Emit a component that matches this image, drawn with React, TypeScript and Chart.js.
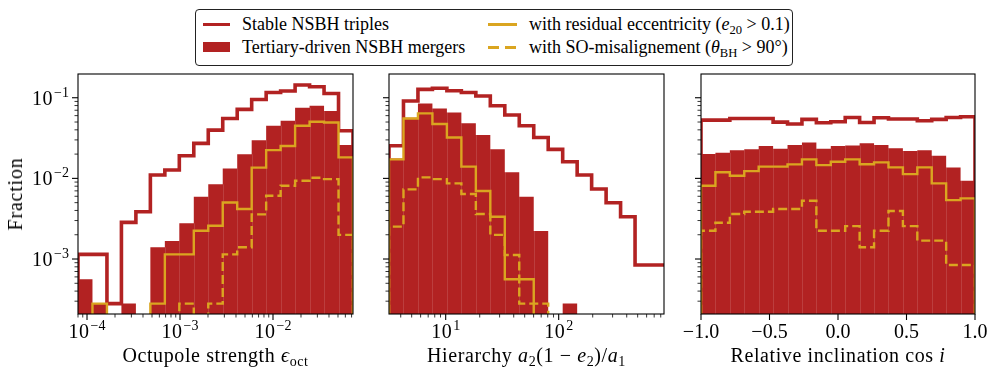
import React, { useEffect, useRef } from 'react';
import { Chart, registerables } from 'chart.js';
Chart.register(...registerables);

const FONT = "'Liberation Serif', 'Times New Roman', serif";
const RED = '#b22222';
const GOLD = '#daa520';
const N_BINS = 19;

// shared y axis
const Y_MIN = 2.08e-4;
const Y_MAX = 0.197;
const Y_TICK_EXPONENTS = [-3, -2, -1];

// Panel 1: octupole strength
const OCT_RANGE = [8.0e-5, 7.25e-2];
const OCT_TICK_EXPONENTS = [-4, -3, -2];
const OCT_STABLE = [1.14e-3, 1.14e-3, 2.8e-4, 2.85e-3, 3.86e-3, 1.1e-2, 1.27e-2, 1.91e-2, 2.72e-2, 3.97e-2, 5.54e-2, 7.17e-2, 9.53e-2, 0.116, 0.121, 0.144, 0.137, 0.113, 3.9e-2];
const OCT_MERGER = [5.6e-4, 2.8e-4, 0, 2.8e-4, 0, 1.4e-3, 1.67e-3, 2.77e-3, 5.93e-3, 8.43e-3, 1.33e-2, 1.99e-2, 2.98e-2, 4.5e-2, 5.19e-2, 7.52e-2, 7.96e-2, 6.83e-2, 2.59e-2];
const OCT_ECC = [0, 2.8e-4, 0, 0, 0, 2.8e-4, 1.14e-3, 1.14e-3, 2.24e-3, 2.59e-3, 5.03e-3, 4.17e-3, 1.36e-2, 2.24e-2, 2.52e-2, 4.5e-2, 5.03e-2, 4.94e-2, 1.82e-2];
const OCT_MIS = [0, 0, 0, 0, 0, 0, 0, 2.8e-4, 0, 2.8e-4, 1.14e-3, 1.4e-3, 3.58e-3, 6.1e-3, 8.1e-3, 9.35e-3, 1.02e-2, 9.8e-3, 1.99e-3];

// Panel 2: hierarchy
const HIER_RANGE = [3.15, 855];
const HIER_TICK_EXPONENTS = [1, 2];
const HIER_STABLE = [2.54e-2, 9.1e-2, 0.127, 0.131, 0.122, 0.116, 0.105, 7.96e-2, 6.1e-2, 4.5e-2, 3.22e-2, 2.29e-2, 1.61e-2, 1.1e-2, 7.37e-3, 4.99e-3, 3.35e-3, 8.43e-4, 8.43e-4];
const HIER_MERGER = [1.77e-2, 5.65e-2, 8.5e-2, 7.38e-2, 6.58e-2, 4.81e-2, 3.44e-2, 2.29e-2, 1.19e-2, 5.93e-3, 2.22e-3, 0, 2.8e-4, 0, 0, 0, 0, 0, 0];
const HIER_ECC = [1.72e-2, 5.54e-2, 6.4e-2, 4.72e-2, 3.22e-2, 1.4e-2, 6.97e-3, 3.35e-3, 5.6e-4, 5.6e-4, 0, 0, 0, 0, 0, 0, 0, 0, 0];
const HIER_MIS = [2.52e-3, 7.3e-3, 1.03e-2, 9.8e-3, 8.67e-3, 6.4e-3, 3.61e-3, 1.99e-3, 1.12e-3, 2.8e-4, 2.8e-4, 0, 0, 0, 0, 0, 0, 0, 0];

// Panel 3: relative inclination
const COS_RANGE = [-1, 1];
const COS_TICKS = [-1, -0.5, 0, 0.5, 1];
const COS_TICK_LABELS = ['\u22121.0', '\u22120.5', '0.0', '0.5', '1.0'];
const COS_STABLE = [5.28e-2, 5.28e-2, 5.54e-2, 5.54e-2, 5.54e-2, 4.99e-2, 4.72e-2, 5.39e-2, 4.9e-2, 5.03e-2, 5.7e-2, 4.94e-2, 5.65e-2, 5.44e-2, 5.44e-2, 5.19e-2, 5.39e-2, 5.7e-2, 5.81e-2];
const COS_MERGER = [2.0e-2, 2.08e-2, 2.24e-2, 2.29e-2, 2.52e-2, 2.33e-2, 2.59e-2, 2.79e-2, 2.33e-2, 2.52e-2, 2.56e-2, 2.72e-2, 2.59e-2, 2.36e-2, 2.18e-2, 2.24e-2, 1.91e-2, 1.36e-2, 9.35e-3];
const COS_ECC = [8.1e-3, 1.19e-2, 1.08e-2, 1.23e-2, 1.4e-2, 1.4e-2, 1.49e-2, 1.72e-2, 1.46e-2, 1.61e-2, 1.72e-2, 1.5e-2, 1.58e-2, 1.37e-2, 1.13e-2, 1.37e-2, 8.67e-3, 5.38e-3, 5.65e-3];
const COS_MIS = [2.24e-3, 2.82e-3, 3.61e-3, 3.86e-3, 3.86e-3, 4.17e-3, 4.17e-3, 5.28e-3, 2.24e-3, 2.24e-3, 2.56e-3, 1.4e-3, 2.24e-3, 3.94e-3, 2.56e-3, 1.69e-3, 1.69e-3, 8.43e-4, 8.43e-4];

const FLOOR = 1e-9;

function logEdges(r: number[]) {
  const l0 = Math.log10(r[0]);
  const l1 = Math.log10(r[1]);
  const out: number[] = [];
  for (let i = 0; i <= N_BINS; i++) out.push(Math.pow(10, l0 + (i * (l1 - l0)) / N_BINS));
  return out;
}
function linEdges(r: number[]) {
  const out: number[] = [];
  for (let i = 0; i <= N_BINS; i++) out.push(r[0] + (i * (r[1] - r[0])) / N_BINS);
  return out;
}
function stepPoints(edges: number[], vals: number[]) {
  const pts = [{ x: edges[0], y: FLOOR }];
  vals.forEach((v, i) => pts.push({ x: edges[i], y: v > 0 ? v : FLOOR }));
  const last = vals[vals.length - 1];
  pts.push({ x: edges[vals.length], y: last > 0 ? last : FLOOR });
  pts.push({ x: edges[vals.length], y: FLOOR });
  return pts;
}

function drawPow(ctx: CanvasRenderingContext2D, x: number, y: number, exp: number, align: 'center' | 'right') {
  const sup = (exp < 0 ? '\u2212' : '') + Math.abs(exp);
  ctx.font = `20px ${FONT}`;
  const wb = ctx.measureText('10').width + 1;
  ctx.font = `14px ${FONT}`;
  const ws = ctx.measureText(sup).width;
  const total = wb + ws + 1;
  const sx = align === 'center' ? x - total / 2 : x - total;
  ctx.textAlign = 'left';
  ctx.textBaseline = 'alphabetic';
  ctx.font = `20px ${FONT}`;
  ctx.fillText('1', sx, y + 7);
  ctx.fillText('0', sx + wb / 2, y + 7);
  ctx.font = `14px ${FONT}`;
  ctx.fillText(sup, sx + wb + 1, y - 1);
}

const mplPlugin = {
  id: 'mpl',
  afterDatasetDraw(chart: any, args: any) {
    const o = chart.options.plugins.mpl;
    if (!o || args.index !== 3) return;
    const { ctx, chartArea: a } = chart;
    const xs = chart.scales.x;
    const ys = chart.scales.y;
    ctx.save();
    ctx.beginPath();
    ctx.rect(a.left, a.top, a.right - a.left, a.bottom - a.top);
    ctx.clip();
    ctx.strokeStyle = 'rgba(255,255,255,0.13)';
    ctx.lineWidth = 1;
    for (let i = 1; i < o.merger.length; i++) {
      const top = Math.min(o.merger[i - 1], o.merger[i]);
      if (top <= 0) continue;
      const px = Math.round(xs.getPixelForValue(o.edges[i])) + 0.5;
      const py = ys.getPixelForValue(top);
      ctx.beginPath();
      ctx.moveTo(px, a.bottom);
      ctx.lineTo(px, py);
      ctx.stroke();
    }
    ctx.restore();
  },
  afterDraw(chart: any) {
    const o = chart.options.plugins.mpl;
    const { ctx, chartArea: a } = chart;
    const xs = chart.scales.x;
    const ys = chart.scales.y;
    ctx.save();
    ctx.strokeStyle = '#000';
    ctx.fillStyle = '#000';
    ctx.lineWidth = 1.1;
    ctx.strokeRect(a.left, a.top, a.right - a.left, a.bottom - a.top);
    const MAJ = 6;
    const MIN = 3.5;
    for (let e = -5; e <= 1; e++) {
      for (let m = 1; m <= 9; m++) {
        const v = m * Math.pow(10, e);
        if (v < Y_MIN || v > Y_MAX) continue;
        const py = ys.getPixelForValue(v);
        ctx.lineWidth = m === 1 ? 1.1 : 0.8;
        ctx.beginPath();
        ctx.moveTo(a.left - (m === 1 ? MAJ : MIN), py);
        ctx.lineTo(a.left, py);
        ctx.stroke();
      }
    }
    if (o.yLabels) {
      Y_TICK_EXPONENTS.forEach((e) => {
        drawPow(ctx, a.left - 9, ys.getPixelForValue(Math.pow(10, e)), e, 'right');
      });
    }
    if (o.xLog) {
      const lo = o.range[0], hi = o.range[1];
      for (let e = -6; e <= 4; e++) {
        for (let m = 1; m <= 9; m++) {
          const v = m * Math.pow(10, e);
          if (v < lo || v > hi) continue;
          const px = xs.getPixelForValue(v);
          ctx.lineWidth = m === 1 ? 1.1 : 0.8;
          ctx.beginPath();
          ctx.moveTo(px, a.bottom);
          ctx.lineTo(px, a.bottom + (m === 1 ? MAJ : MIN));
          ctx.stroke();
        }
      }
      o.tickExps.forEach((e: number) => {
        drawPow(ctx, xs.getPixelForValue(Math.pow(10, e)), a.bottom + 17, e, 'center');
      });
    } else {
      ctx.lineWidth = 1.1;
      ctx.font = `20px ${FONT}`;
      ctx.textAlign = 'center';
      ctx.textBaseline = 'alphabetic';
      o.ticks.forEach((v: number, i: number) => {
        const px = xs.getPixelForValue(v);
        ctx.beginPath();
        ctx.moveTo(px, a.bottom);
        ctx.lineTo(px, a.bottom + MAJ);
        ctx.stroke();
        ctx.fillText(o.tickLabels[i], px, a.bottom + 24);
      });
    }
    ctx.restore();
  },
};

function makeConfig(p: any) {
  const edges = p.log ? logEdges(p.range) : linEdges(p.range);
  const line = (vals: number[], color: string, width: number, dash: number[] = []) => ({
    data: stepPoints(edges, vals),
    borderColor: color,
    borderWidth: width,
    borderDash: dash,
    stepped: true,
    pointRadius: 0,
    fill: false,
    borderJoinStyle: 'miter',
    borderCapStyle: 'butt',
  });
  return {
    type: 'line',
    data: {
      datasets: [
        line(p.mis, GOLD, 2.4, [9, 4]),
        line(p.ecc, GOLD, 2.4),
        line(p.stable, RED, 3.6),
        {
          data: stepPoints(edges, p.merger),
          borderColor: 'rgba(0,0,0,0)',
          borderWidth: 1,
          backgroundColor: RED,
          stepped: true,
          pointRadius: 0,
          fill: 'start',
        },
      ],
    },
    options: {
      animation: false,
      responsive: false,
      maintainAspectRatio: false,
      events: [],
      layout: { padding: { left: 0, right: p.padRight, top: 74, bottom: 0 } },
      scales: {
        x: {
          type: p.log ? 'logarithmic' : 'linear',
          min: p.range[0],
          max: p.range[1],
          afterFit: (s: any) => { s.height = 62; },
          ticks: { display: false },
          grid: { display: false },
          border: { display: false },
        },
        y: {
          type: 'logarithmic',
          min: Y_MIN,
          max: Y_MAX,
          afterFit: (s: any) => { s.width = p.yWidth; },
          ticks: { display: false },
          grid: { display: false },
          border: { display: false },
        },
      },
      plugins: {
        legend: { display: false },
        tooltip: { enabled: false },
        mpl: {
          yLabels: p.yLabels,
          xLog: p.log,
          range: p.range,
          tickExps: p.tickExps,
          ticks: p.ticks,
          tickLabels: p.tickLabels,
          edges,
          merger: p.merger,
        },
      },
    },
    plugins: [mplPlugin],
  };
}

const PANELS = [
  { left: 0, width: 365, yWidth: 78, padRight: 12, log: true, range: OCT_RANGE, tickExps: OCT_TICK_EXPONENTS, yLabels: true,
    stable: OCT_STABLE, merger: OCT_MERGER, ecc: OCT_ECC, mis: OCT_MIS },
  { left: 365, width: 310, yWidth: 24, padRight: 11, log: true, range: HIER_RANGE, tickExps: HIER_TICK_EXPONENTS, yLabels: false,
    stable: HIER_STABLE, merger: HIER_MERGER, ecc: HIER_ECC, mis: HIER_MIS },
  { left: 675, width: 322, yWidth: 26, padRight: 22, log: false, range: COS_RANGE, ticks: COS_TICKS, tickLabels: COS_TICK_LABELS, yLabels: false,
    stable: COS_STABLE, merger: COS_MERGER, ecc: COS_ECC, mis: COS_MIS },
];

function Panel({ p }: { p: any }) {
  const ref = useRef<HTMLCanvasElement>(null);
  useEffect(() => {
    if (!ref.current) return;
    const chart = new Chart(ref.current, makeConfig(p) as any);
    return () => chart.destroy();
  }, []);
  return (
    <canvas
      ref={ref}
      width={p.width}
      height={376}
      style={{ position: 'absolute', left: p.left, top: 0, width: p.width, height: 376 }}
    />
  );
}

const sub: React.CSSProperties = { fontSize: '70%', position: 'relative', top: '0.3em', lineHeight: 0 };
const txt: React.CSSProperties = { position: 'absolute', fontFamily: FONT, color: '#000', whiteSpace: 'nowrap', lineHeight: 1 };
const axisTitle: React.CSSProperties = { ...txt, fontSize: 20, letterSpacing: '0.6px', top: 355 };
const legendText: React.CSSProperties = { ...txt, fontSize: 18, transform: 'translateY(-50%)' };

export default function App() {
  return (
    <div style={{ position: 'fixed', left: 0, top: 0, width: 997, height: 376, background: '#fff', overflow: 'hidden' }}>
      {PANELS.map((p, i) => <Panel key={i} p={p} />)}
      <div style={{ ...txt, fontSize: 20, letterSpacing: '0.8px', left: 15, top: 194, transform: 'translate(-50%, -50%) rotate(-90deg)' }}>Fraction</div>
      <div style={{ ...axisTitle, left: 215.5, transform: 'translate(-50%, -50%)' }}>
        Octupole strength <i>ϵ</i><span style={sub}>oct</span>
      </div>
      <div style={{ ...axisTitle, left: 526.5, transform: 'translate(-50%, -50%)' }}>
        Hierarchy <i>a</i><span style={sub}>2</span>(1 − <i>e</i><span style={sub}>2</span>)/<i>a</i><span style={sub}>1</span>
      </div>
      <div style={{ ...axisTitle, left: 838, transform: 'translate(-50%, -50%)' }}>
        Relative inclination cos <i>i</i>
      </div>
      <div style={{ position: 'absolute', left: 195, top: 9, width: 598, height: 57, border: '1.2px solid #222', borderRadius: 4, boxSizing: 'border-box', background: '#fff' }} />
      <div style={{ position: 'absolute', left: 203, top: 22.5, width: 27, height: 3, background: RED }} />
      <div style={{ ...legendText, left: 242, top: 24 }}>Stable NSBH triples</div>
      <div style={{ position: 'absolute', left: 203, top: 42, width: 27, height: 10, background: RED }} />
      <div style={{ ...legendText, left: 242, top: 47 }}>Tertiary-driven NSBH mergers</div>
      <div style={{ position: 'absolute', left: 488, top: 22.5, width: 29, height: 3, background: GOLD }} />
      <div style={{ ...legendText, left: 529, top: 24 }}>
        with residual eccentricity (<i>e</i><span style={sub}>20</span> &gt; 0.1)
      </div>
      <div style={{ position: 'absolute', left: 488, top: 45.5, width: 11, height: 3, background: GOLD }} />
      <div style={{ position: 'absolute', left: 505, top: 45.5, width: 11, height: 3, background: GOLD }} />
      <div style={{ ...legendText, left: 529, top: 47 }}>
        with SO-misalignement (<i>θ</i><span style={sub}>BH</span> &gt; 90°)
      </div>
    </div>
  );
}
